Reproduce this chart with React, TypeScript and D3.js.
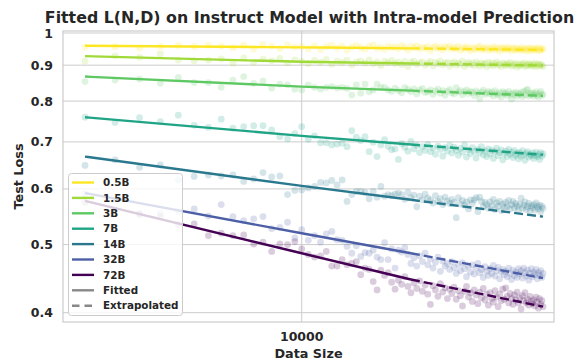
import React from "react";
import * as d3 from "d3";

const dataSizes = [2000,2500,3000,3500,4000,4500,5000,5500,6000,6500,7000,7500,8000,8500,9000,9500,10000,10500,11000,11500,12000,12500,13000,13500,14000,14500,15000,15500,16000,16500,17000,17500,18000,18500,19000,19500,20000,20500,21000,21500,22000,22500,23000,23500,24000,24500,25000,25500,26000,26500,27000,27500,28000,28500,29000,29500,30000,30500,31000,31500,32000,32500,33000,33500,34000,34500,35000,35500,36000,36500,37000,37500,38000,38500,39000,39500,40000,40500,41000,41500,42000,42500,43000,43500,44000,44500,45000,45500,46000,46500,47000,47500,48000,48500,49000,49500,50000,50500,51000,51500,52000,52500,53000,53500,54000,54500,55000,55500,56000,56500,57000,57500,58000,58500,59000,59500,60000];

const models = ["0.5B", "1.5B", "3B", "7B", "14B", "32B", "72B"];
const colors = ["#fde725", "#a0da39", "#5ec962", "#20a486", "#2a788e", "#4c5fa6", "#440154"];

const loss05 = [0.955,0.956,0.952,0.957,0.960,0.957,0.961,0.958,0.953,0.961,0.949,0.963,0.958,0.951,0.962,0.955,0.957,
0.950,0.959,0.947,0.956,0.961,0.952,0.958,0.945,0.955,0.960,
0.953,0.949,0.957,0.962,0.951,0.955,0.948,0.958,0.953,0.956,
0.950,0.960,0.954,0.946,0.957,0.952,0.959,0.949,0.955,0.951,
0.957,0.944,0.953,0.958,0.950,0.955,0.947,0.956,0.952,0.959,
0.948,0.954,0.950,0.957,0.945,0.953,0.949,0.956,0.951,0.943,
0.955,0.950,0.947,0.954,0.958,0.946,0.952,0.949,0.955,0.944,
0.951,0.948,0.956,0.946,0.953,0.950,0.942,0.954,0.949,0.952,
0.946,0.955,0.948,0.951,0.943,0.953,0.949,0.945,0.952,0.947,
0.950,0.944,0.954,0.948,0.946,0.951,0.942,0.949,0.953,0.945,
0.948,0.951,0.944,0.950,0.946,0.953,0.943,0.949,0.947,0.950];

const loss15 = [0.912,0.928,0.924,0.934,0.915,0.913,0.915,0.919,0.906,0.922,0.909,0.918,0.913,0.920,0.907,0.916,0.911,
0.905,0.914,0.909,0.917,0.903,0.912,0.908,0.915,0.901,0.910,
0.913,0.906,0.916,0.904,0.910,0.899,0.912,0.907,0.914,0.905,
0.909,0.902,0.911,0.896,0.908,0.913,0.903,0.907,0.910,0.900,
0.906,0.911,0.898,0.908,0.904,0.913,0.901,0.906,0.909,0.897,
0.905,0.910,0.900,0.907,0.903,0.912,0.896,0.904,0.908,0.901,
0.906,0.899,0.910,0.903,0.897,0.907,0.902,0.905,0.895,0.909,
0.901,0.906,0.898,0.904,0.910,0.900,0.903,0.896,0.907,0.902,
0.899,0.905,0.901,0.908,0.897,0.903,0.900,0.906,0.894,0.902,
0.898,0.904,0.900,0.907,0.896,0.902,0.899,0.905,0.901,0.897,
0.903,0.899,0.906,0.895,0.901,0.904,0.898,0.902,0.900,0.896];

const loss3 = [0.853,0.857,0.860,0.848,0.865,0.850,0.850,0.837,0.857,0.867,0.848,0.855,0.835,0.846,0.844,0.832,0.830,
0.844,0.837,0.832,0.837,0.839,0.835,0.837,0.834,0.816,0.844,
0.821,0.846,0.825,0.830,0.846,0.837,0.837,0.830,0.826,0.835,
0.828,0.822,0.836,0.831,0.825,0.833,0.819,0.829,0.834,0.823,
0.825,0.830,0.818,0.827,0.832,0.821,0.828,0.816,0.826,0.831,
0.822,0.819,0.836,0.824,0.828,0.817,0.825,0.830,0.820,0.826,
0.823,0.815,0.827,0.821,0.806,0.824,0.829,0.818,0.822,0.826,
0.819,0.824,0.814,0.828,0.820,0.816,0.823,0.811,0.825,0.819,
0.822,0.815,0.826,0.818,0.805,0.821,0.817,0.824,0.813,0.820,
0.818,0.823,0.812,0.826,0.816,0.829,0.831,0.814,0.821,0.817,
0.822,0.813,0.819,0.825,0.816,0.811,0.820,0.826,0.815,0.818];

const loss7 = [0.759,0.746,0.758,0.748,0.764,0.739,0.734,0.754,0.732,0.736,0.738,0.738,0.728,0.712,0.707,0.719,0.736,
0.706,0.714,0.698,0.698,0.693,0.695,0.697,0.689,0.726,0.711,
0.703,0.712,0.678,0.699,0.667,0.693,0.705,0.690,0.682,0.684,
0.661,0.696,0.688,0.679,0.701,0.684,0.692,0.676,0.689,0.681,
0.694,0.678,0.686,0.672,0.690,0.683,0.668,0.687,0.679,0.692,
0.675,0.688,0.681,0.670,0.685,0.677,0.693,0.666,0.682,0.674,
0.687,0.679,0.664,0.683,0.676,0.689,0.671,0.680,0.667,0.684,
0.673,0.681,0.663,0.678,0.686,0.669,0.676,0.682,0.660,0.674,
0.679,0.667,0.683,0.672,0.677,0.665,0.681,0.670,0.675,0.662,
0.676,0.668,0.680,0.671,0.659,0.674,0.678,0.666,0.672,0.669,
0.675,0.663,0.670,0.677,0.667,0.672,0.661,0.676,0.668,0.673];

const loss14 = [0.648,0.660,0.644,0.649,0.618,0.625,0.628,0.626,0.628,0.615,0.620,0.633,0.624,0.626,0.589,0.597,0.598,
0.602,0.605,0.613,0.612,0.617,0.608,0.618,0.576,0.589,0.595,
0.595,0.593,0.581,0.595,0.584,0.605,0.586,0.589,0.587,0.590,
0.592,0.589,0.580,0.593,0.583,0.588,0.566,0.586,0.579,0.590,
0.582,0.579,0.573,0.587,0.576,0.581,0.570,0.584,0.577,0.572,
0.580,0.574,0.546,0.583,0.571,0.578,0.569,0.575,0.562,0.579,
0.572,0.579,0.583,0.557,0.584,0.576,0.566,0.574,0.570,0.563,
0.575,0.568,0.580,0.561,0.573,0.567,0.576,0.559,0.571,0.565,
0.574,0.566,0.578,0.562,0.570,0.576,0.564,0.572,0.567,0.560,
0.571,0.582,0.563,0.569,0.575,0.561,0.566,0.572,0.558,0.568,
0.564,0.570,0.560,0.573,0.566,0.562,0.569,0.557,0.567,0.563];

const loss32 = [0.590,0.578,0.554,0.554,0.557,0.562,0.549,0.570,0.548,0.541,0.544,0.548,0.527,0.529,0.538,0.511,0.525,
0.507,0.515,0.504,0.518,0.522,0.508,0.507,0.497,0.486,0.498,
0.481,0.487,0.486,0.491,0.480,0.476,0.503,0.476,0.493,0.463,
0.491,0.488,0.495,0.484,0.470,0.479,0.466,0.482,0.473,0.486,
0.468,0.477,0.463,0.472,0.480,0.458,0.474,0.466,0.470,0.461,
0.473,0.464,0.455,0.469,0.459,0.471,0.462,0.450,0.466,0.457,
0.468,0.454,0.463,0.470,0.456,0.461,0.449,0.465,0.458,0.452,
0.462,0.455,0.467,0.451,0.459,0.464,0.447,0.457,0.461,0.453,
0.458,0.450,0.463,0.455,0.446,0.460,0.452,0.457,0.449,0.462,
0.454,0.459,0.448,0.463,0.456,0.451,0.460,0.445,0.455,0.462,
0.450,0.457,0.453,0.461,0.447,0.456,0.452,0.459,0.449,0.455];

const loss72 = [0.574,0.560,0.552,0.548,0.534,0.535,0.515,0.519,0.515,0.516,0.501,0.504,0.489,0.501,0.500,0.505,0.493,
0.484,0.480,0.482,0.489,0.466,0.466,0.476,0.468,0.470,0.473,
0.453,0.463,0.461,0.443,0.431,0.460,0.452,0.456,0.442,0.432,
0.445,0.439,0.450,0.436,0.427,0.441,0.433,0.444,0.429,0.438,
0.425,0.411,0.437,0.431,0.422,0.440,0.428,0.434,0.419,0.432,
0.426,0.435,0.418,0.430,0.423,0.409,0.429,0.436,0.421,0.427,
0.415,0.431,0.424,0.412,0.428,0.420,0.433,0.417,0.425,0.410,
0.427,0.419,0.414,0.430,0.421,0.408,0.425,0.416,0.432,0.418,
0.434,0.422,0.413,0.426,0.419,0.411,0.424,0.417,0.428,0.413,
0.420,0.405,0.423,0.416,0.427,0.413,0.418,0.410,0.422,0.415,
0.412,0.417,0.409,0.421,0.414,0.406,0.419,0.411,0.416,0.408];

const fitSizes = [2000, 10000, 22500];
const extrapSizes = [22500, 60000];
const fit05 = [0.959, 0.954, 0.951, 0.946];
const fit15 = [0.927, 0.910, 0.905, 0.899];
const fit3 = [0.867, 0.839, 0.828, 0.814];
const fit7 = [0.759, 0.714, 0.694, 0.671];
const fit14 = [0.667, 0.606, 0.579, 0.548];
const fit32 = [0.592, 0.519, 0.486, 0.448];
const fit72 = [0.577, 0.486, 0.446, 0.408];

const yTicks = [1, 0.9, 0.8, 0.7, 0.6, 0.5, 0.4];
const xTicks = [10000];

const allLoss = [loss05, loss15, loss3, loss7, loss14, loss32, loss72];
const allFit = [fit05, fit15, fit3, fit7, fit14, fit32, fit72];

const W = 587, H = 361;
const L = 63, R = 554, T = 31, B = 322;
const FONT = "'DejaVu Sans', sans-serif";
const TXT = "#262626";
const GRID = "#cccccc";

export default function App() {
  const x = d3.scaleLog().domain([2000, 60000]).range([85, 543]);
  const y = d3.scaleLog().domain([0.388, 1.0066]).range([B, T]);
  const line = d3.line<[number, number]>().x(d => x(d[0])).y(d => y(d[1])).curve(d3.curveMonotoneX);

  const legendItems = models.map((m, i) => ({ label: m, color: colors[i], dash: "" }));
  legendItems.push({ label: "Fitted", color: "#888888", dash: "" });
  legendItems.push({ label: "Extrapolated", color: "#888888", dash: "7.5,5" });

  return (
    <svg width={W} height={H} style={{ position: "absolute", left: 0, top: 0 }} fontFamily={FONT}>
      <rect x={0} y={0} width={W} height={H} fill="#fff" />
      <clipPath id="plotclip"><rect x={L} y={T} width={R - L} height={B - T} /></clipPath>
      {yTicks.map(t => (
        <line key={"gy" + t} x1={L} x2={R} y1={y(t)} y2={y(t)} stroke={GRID} strokeWidth={1} />
      ))}
      {xTicks.map(t => (
        <line key={"gx" + t} x1={x(t)} x2={x(t)} y1={T} y2={B} stroke={GRID} strokeWidth={1} />
      ))}
      <g clipPath="url(#plotclip)">
        {allLoss.map((arr, i) => (
          <g key={"s" + i} fill={colors[i]} fillOpacity={0.2}>
            {arr.map((v, j) => (
              <circle key={j} cx={x(dataSizes[j])} cy={y(v)} r={3.4} />
            ))}
          </g>
        ))}
        {allFit.map((f, i) => (
          <g key={"l" + i}>
            <path d={line(fitSizes.map((s, j) => [s, f[j]]) as [number, number][]) || ""} fill="none" stroke={colors[i]} strokeWidth={2.4} />
            <path d={line(extrapSizes.map((s, j) => [s, f[j + 2]]) as [number, number][]) || ""} fill="none" stroke={colors[i]} strokeWidth={2.4} strokeDasharray="9,4" />
          </g>
        ))}
      </g>
      <rect x={L} y={T} width={R - L} height={B - T} fill="none" stroke={GRID} strokeWidth={1.2} />
      {yTicks.map(t => (
        <text key={"ty" + t} x={53} y={y(t)} dy="0.36em" textAnchor="end" fontSize={12.5} fontWeight="bold" fill={TXT}>{String(t)}</text>
      ))}
      {xTicks.map(t => (
        <text key={"tx" + t} x={x(t)} y={341} textAnchor="middle" fontSize={12.5} fontWeight="bold" fill={TXT}>{String(t)}</text>
      ))}
      <text x={(L + R) / 2} y={358} textAnchor="middle" fontSize={12.8} fontWeight="bold" fill={TXT}>Data Size</text>
      <text transform={`translate(23,${(T + B) / 2}) rotate(-90)`} textAnchor="middle" fontSize={12.8} fontWeight="bold" fill={TXT}>Test Loss</text>
      <text x={(L + R) / 2 + 1} y={23} textAnchor="middle" fontSize={15.8} fontWeight="bold" fill={TXT}>Fitted L(N,D) on Instruct Model with Intra-model Prediction</text>
      <g>
        <rect x={68.5} y={173.5} width={114} height={142} rx={3} fill="#fff" fillOpacity={0.8} stroke={GRID} strokeWidth={1} />
        {legendItems.map((it, i) => {
          const yy = 182.5 + i * 15.4;
          return (
            <g key={"lg" + i}>
              <line x1={72} x2={94} y1={yy} y2={yy} stroke={it.color} strokeWidth={2.4} strokeDasharray={it.dash || undefined} />
              <text x={103} y={yy} dy="0.36em" fontSize={10.4} fontWeight="bold" fill={TXT}>{it.label}</text>
            </g>
          );
        })}
      </g>
    </svg>
  );
}
